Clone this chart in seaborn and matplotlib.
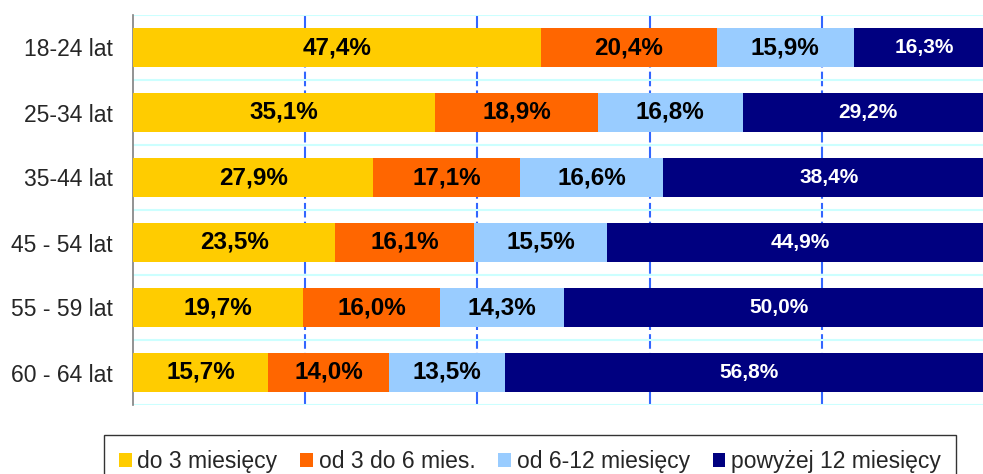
import matplotlib
matplotlib.use("Agg")
import matplotlib.pyplot as plt
from matplotlib.patches import Patch
from matplotlib.ticker import FixedLocator
import numpy as np
import pandas as pd
import seaborn as sns

# dane: czas poszukiwania pracy wg wieku (%)
ages = ["18-24 lat", "25-34 lat", "35-44 lat", "45 - 54 lat", "55 - 59 lat", "60 - 64 lat"]
do_3 = [47.4, 35.1, 27.9, 23.5, 19.7, 15.7]
od_3_6 = [20.4, 18.9, 17.1, 16.1, 16.0, 14.0]
od_6_12 = [15.9, 16.8, 16.6, 15.5, 14.3, 13.5]
pow_12 = [16.3, 29.2, 38.4, 44.9, 50.0, 56.8]

series_names = ["do 3 miesięcy", "od 3 do 6 mies.", "od 6-12 miesięcy", "powyżej 12 miesięcy"]
colors = ["#FFCC00", "#FF6600", "#99CCFF", "#000080"]
text_colors = ["black", "black", "black", "white"]

df = pd.DataFrame({"wiek": ages, series_names[0]: do_3, series_names[1]: od_3_6,
                   series_names[2]: od_6_12, series_names[3]: pow_12})
cum = df[series_names].cumsum(axis=1)

sns.set_style("white")
plt.rcParams["font.family"] = ["Liberation Sans", "DejaVu Sans"]

fig = plt.figure(figsize=(9.83, 4.74), dpi=100)
ax = fig.add_axes([133 / 983, 69 / 474, 861 / 983, 390 / 474])

# stos: najpierw suma calkowita, potem kolejne warstwy na wierzchu
for name, c in reversed(list(zip(series_names, colors))):
    sns.barplot(x=cum[name], y=df["wiek"], color=c, width=0.6, saturation=1,
                errorbar=None, orient="h", linewidth=0, ax=ax, zorder=3)

# etykiety wartosci
for j, name in enumerate(series_names):
    for i in range(len(ages)):
        v = df[name].iloc[i]
        xc = cum[name].iloc[i] - v / 2
        fs = 15 if j == 3 else 17.5
        ax.text(xc, i, f"{v:.1f}%".replace(".", ","), ha="center", va="center",
                fontsize=fs, fontweight="bold", color=text_colors[j], zorder=4)

ax.set_xlim(0, 100)
ax.set_ylim(len(ages) - 0.5, -0.5)
ax.set_xlabel("")
ax.set_ylabel("")
ax.set_xticks([])

# siatka
for xv in [20, 40, 60, 80]:
    ax.axvline(xv, color="#3366FF", lw=1.5, ls=(0, (7, 2)), zorder=1)
for yv in np.arange(-0.5, len(ages), 1):
    ax.axhline(yv, color="#CCFFFF", lw=1.5, zorder=1)

for s in ["top", "right", "bottom"]:
    ax.spines[s].set_visible(False)
ax.spines["left"].set_color("#808080")
ax.spines["left"].set_linewidth(1.2)
ax.tick_params(axis="y", which="major", length=0, labelsize=16.5, pad=14.5)
ax.yaxis.set_minor_locator(FixedLocator(np.arange(-0.5, len(ages), 1)))
ax.tick_params(axis="y", which="minor", length=6, width=1.2, color="#404040", direction="out")

handles = [Patch(facecolor=c, edgecolor="none", label=n) for n, c in zip(series_names, colors)]
leg = fig.legend(handles=handles, loc="upper center", bbox_to_anchor=(530 / 983, 1 - 435 / 474),
                 ncol=4, fontsize=16.5, frameon=True, fancybox=False, handlelength=0.55,
                 handleheight=0.55, handletextpad=0.25, columnspacing=1.0, borderpad=0.65,
                 borderaxespad=0)
leg.get_frame().set_edgecolor("black")
leg.get_frame().set_linewidth(1.0)

fig.savefig("out.png", dpi=100)
